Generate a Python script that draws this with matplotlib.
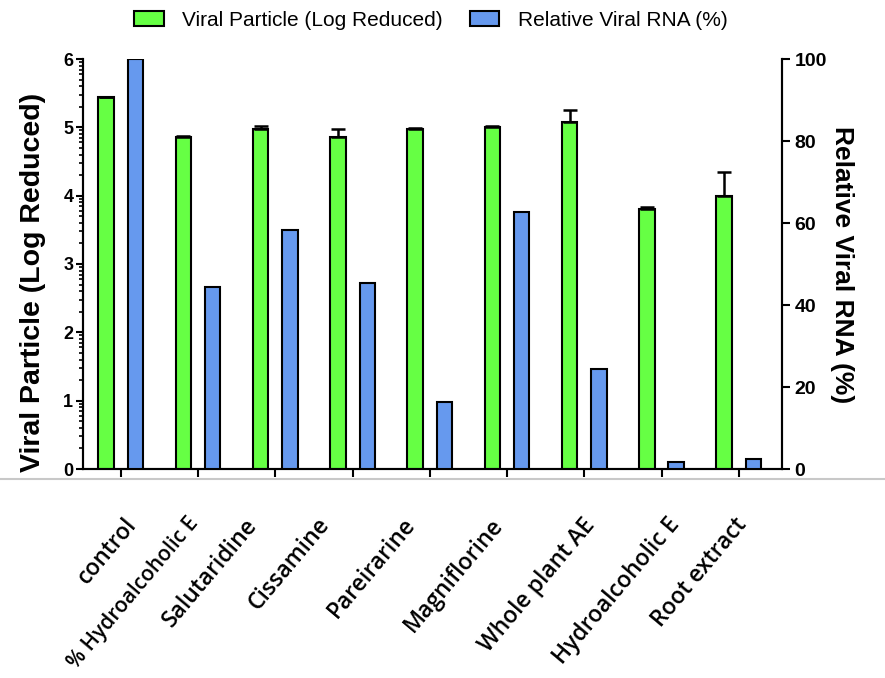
import numpy as np
import matplotlib
matplotlib.use("Agg")
import matplotlib.pyplot as plt
from matplotlib.patches import Patch
from matplotlib.lines import Line2D
from matplotlib.transforms import ScaledTranslation

# Data
categories = ["control", "% Hydroalcoholic E", "Salutaridine", "Cissamine",
              "Pareirarine", "Magniflorine", "Whole plant AE",
              "Hydroalcoholic E", "Root extract"]
viral_log = [5.44, 4.86, 4.97, 4.86, 4.97, 5.00, 5.08, 3.80, 4.00]
viral_err = [0.0, 0.02, 0.05, 0.12, 0.02, 0.02, 0.18, 0.04, 0.35]
rna_pct = [100.0, 44.5, 58.3, 45.3, 16.3, 62.7, 24.4, 1.8, 2.4]

# label nudges in pixels (the labels in the source image are placed by hand)
label_dx = [3, -11, -31, -36, -28, -17, -2, 5, -5]

green = "#66ff44"
blue = "#6699ee"

fig = plt.figure(figsize=(8.85, 6.78), dpi=100)
ax = fig.add_axes([83 / 885, 209 / 678, 699 / 885, 410 / 678])
ax2 = ax.twinx()

x = np.arange(len(categories))
w = 0.2
off = 0.19

ax.bar(x - off, viral_log, w, color=green, edgecolor="black", linewidth=1.5, zorder=3)
ax.errorbar(x - off, viral_log, yerr=[np.zeros(len(viral_err)), viral_err], fmt="none",
            ecolor="black", elinewidth=1.8, capsize=5, capthick=1.8, zorder=4)
ax2.bar(x + off, rna_pct, w, color=blue, edgecolor="black", linewidth=1.5, zorder=3)

ax.set_xlim(-0.49, 8.56)
ax.set_ylim(0, 6)
ax2.set_ylim(0, 100)

# Axis styling
for a in (ax, ax2):
    a.spines["top"].set_visible(False)
    for s in ("left", "right", "bottom"):
        a.spines[s].set_linewidth(1.5)

ax.set_yticks(range(7))
minor = [n + np.log10(k) for n in range(6) for k in range(2, 10)]
ax.set_yticks(minor, minor=True)
ax.tick_params(axis="y", which="major", length=5, width=1.5, labelsize=13, pad=2)
ax.tick_params(axis="y", which="minor", length=3, width=1.2)
for lab in ax.get_yticklabels():
    lab.set_fontweight("bold")
    lab.set_family("Liberation Sans")

ax2.set_yticks([0, 20, 40, 60, 80, 100])
ax2.tick_params(axis="y", length=6, width=1.5, labelsize=14, pad=3)
for lab in ax2.get_yticklabels():
    lab.set_fontweight("bold")
    lab.set_family("Liberation Sans")

ax.set_xticks(x)
ax.set_xticklabels(categories, rotation=50, ha="right", va="top",
                   rotation_mode="anchor", fontsize=16.5,
                   family="Open Sans", fontweight="semibold")
ax.tick_params(axis="x", length=6, width=1.5, pad=26)
for lab, dx in zip(ax.get_xticklabels(), label_dx):
    lab.set_transform(lab.get_transform() + ScaledTranslation(dx / 100, 0, fig.dpi_scale_trans))
# the long second label runs off the bottom edge otherwise
ax.get_xticklabels()[1].set_fontsize(15)

# Axis titles
fig.text(33 / 885, 1 - 282 / 678, "Viral Particle (Log Reduced)", rotation=90,
         ha="center", va="center", fontsize=20.5, fontweight="bold", family="Liberation Sans")
fig.text(842 / 885, 1 - 265 / 678, "Relative Viral RNA (%)", rotation=270,
         ha="center", va="center", fontsize=19, fontweight="bold", family="Liberation Sans")

# Legend
handles = [Patch(facecolor=green, edgecolor="black", linewidth=1.5),
           Patch(facecolor=blue, edgecolor="black", linewidth=1.5)]
fig.legend(handles, ["Viral Particle (Log Reduced)", "Relative Viral RNA (%)"],
           loc="center", bbox_to_anchor=(431 / 885, 1 - 20 / 678), ncol=2,
           frameon=False, prop={"family": "Liberation Sans", "size": 15},
           handlelength=1.4, handleheight=0.7, columnspacing=1.3, handletextpad=0.9)

# Gray separator line under the axis
fig.add_artist(Line2D([0, 1], [1 - 479 / 678, 1 - 479 / 678], transform=fig.transFigure,
                      color="#c8c8c8", linewidth=1.5))

fig.savefig("out.png", dpi=100)
